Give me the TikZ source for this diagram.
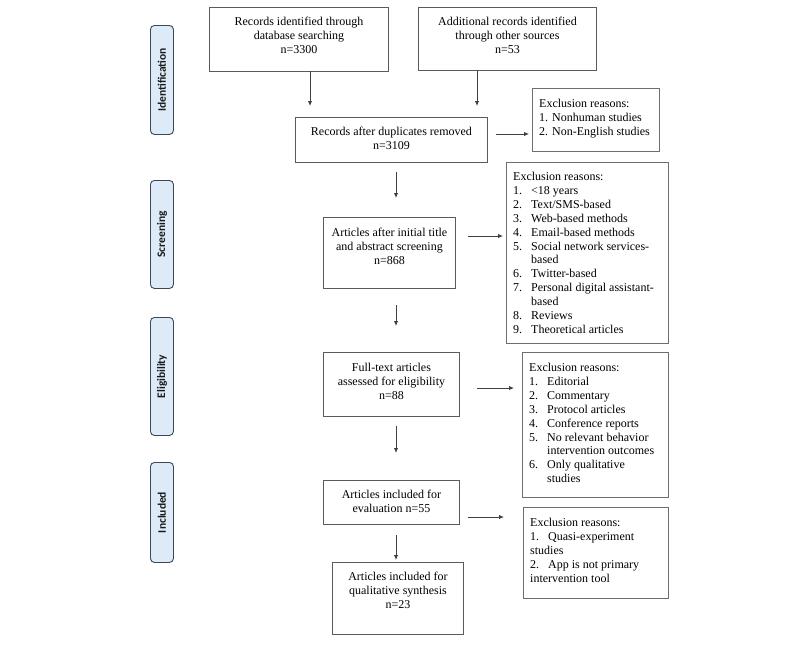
\documentclass[tikz,border=0pt]{standalone}
\usepackage{fontspec}
\setmainfont{Liberation Serif}
\newfontfamily\labelfont{Carlito}
\usetikzlibrary{arrows.meta}
\definecolor{boxgray}{RGB}{90,90,90}
\definecolor{exgray}{RGB}{110,110,110}
\definecolor{lblfill}{RGB}{221,235,248}
\definecolor{lbldraw}{RGB}{60,72,86}
\newcommand\boxat[6]{%
  \node[#6, anchor=north west, minimum width={(#4-#2)*1pt}, minimum height={(#5-#3)*1pt}] (#1) at (#2,#3) {};}
\newcommand\itm[2]{\makebox[18pt][l]{#1}#2}
\newcommand\cnt[1]{\hspace*{18pt}#1}
\begin{document}
\begin{tikzpicture}[x=1pt,y=-1pt,
  mainbox/.style={draw=boxgray, line width=0.9pt, inner sep=0pt},
  exbox/.style={draw=exgray, line width=0.9pt, inner sep=0pt},
  sidebox/.style={draw=lbldraw, fill=lblfill, line width=0.9pt, rounded corners=4pt, inner sep=0pt},
  sidetext/.style={rotate=90, font=\labelfont\bfseries\fontsize{11.5}{13}\selectfont, text=black!90, inner sep=0pt},
  maintext/.style={align=center, inner sep=0pt, font=\fontsize{12}{14}\selectfont, anchor=north},
  extext/.style={align=left, inner sep=0pt, font=\fontsize{12}{13.9}\selectfont, anchor=north west},
  arr/.style={draw=black!75, line width=0.9pt, -{Latex[length=5pt,width=4.5pt]}}
]
\useasboundingbox[fill=white] (0,0) rectangle (800,648);

% side labels
\boxat{L1}{150}{25}{173}{134}{sidebox}
\boxat{L2}{150}{180}{173}{288}{sidebox}
\boxat{L3}{150}{317}{173}{435}{sidebox}
\boxat{L4}{150}{462}{173}{562}{sidebox}
\node[sidetext] (L1t) at (L1.center) {Identification};
\node[sidetext] (L2t) at (L2.center) {Screening};
\node[sidetext] (L3t) at (L3.center) {Eligibility};
\node[sidetext] (L4t) at (L4.center) {Included};

% main boxes
\boxat{A}{209}{7}{388}{71}{mainbox}
\boxat{B}{418}{7}{596}{70}{mainbox}
\boxat{C}{295}{117}{487}{162}{mainbox}
\boxat{D}{323}{217}{455}{288}{mainbox}
\boxat{E}{323}{352}{459}{416}{mainbox}
\boxat{F}{323}{480}{459}{524}{mainbox}
\boxat{G}{332}{562}{463}{634}{mainbox}

\node[maintext] (At) at ([yshift=-10pt]A.north) {Records identified through\\database searching\\n=3300};
\node[maintext] (Bt) at ([yshift=-10pt]B.north) {Additional records identified\\through other sources\\n=53};
\node[maintext] (Ct) at ([yshift=-9.5pt]C.north) {Records after duplicates removed\\n=3109};
\node[maintext] (Dt) at ([yshift=-11pt]D.north) {Articles after initial title\\and abstract screening\\n=868};
\node[maintext] (Et) at ([yshift=-11pt]E.north) {Full-text articles\\assessed for eligibility\\n=88};
\node[maintext] (Ft) at ([yshift=-10pt]F.north) {Articles included for\\evaluation n=55};
\node[maintext] (Gt) at ([yshift=-10pt]G.north) {Articles included for\\qualitative synthesis\\n=23};

% exclusion boxes
\boxat{X1}{532}{88}{659}{151}{exbox}
\boxat{X2}{506}{162}{668}{343}{exbox}
\boxat{X3}{522}{352}{668}{497}{exbox}
\boxat{X4}{523}{507}{668}{598}{exbox}

\node[extext] (X1t) at ([xshift=7pt,yshift=-11pt]X1.north west) {Exclusion reasons:\\1. Nonhuman studies\\2. Non-English studies};
\node[extext] (X2t) at ([xshift=7pt,yshift=-10pt]X2.north west) {Exclusion reasons:\\
\itm{1.}{<18 years}\\
\itm{2.}{Text/SMS-based}\\
\itm{3.}{Web-based methods}\\
\itm{4.}{Email-based methods}\\
\itm{5.}{Social network services-}\\
\cnt{based}\\
\itm{6.}{Twitter-based}\\
\itm{7.}{Personal digital assistant-}\\
\cnt{based}\\
\itm{8.}{Reviews}\\
\itm{9.}{Theoretical articles}};
\node[extext] (X3t) at ([xshift=7pt,yshift=-11pt]X3.north west) {Exclusion reasons:\\
\itm{1.}{Editorial}\\
\itm{2.}{Commentary}\\
\itm{3.}{Protocol articles}\\
\itm{4.}{Conference reports}\\
\itm{5.}{No relevant behavior}\\
\cnt{intervention outcomes}\\
\itm{6.}{Only qualitative}\\
\cnt{studies}};
\node[extext] (X4t) at ([xshift=7pt,yshift=-11pt]X4.north west) {Exclusion reasons:\\
\itm{1.}{Quasi-experiment}\\
studies\\
\itm{2.}{App is not primary}\\
intervention tool};

% arrow end points
\coordinate (a1) at (310,71);  \coordinate (a2) at (310,106);
\coordinate (b1) at (477,71);  \coordinate (b2) at (477,106);
\coordinate (c1) at (496,134); \coordinate (c2) at (529,134);
\coordinate (d1) at (396,172); \coordinate (d2) at (396,198);
\coordinate (e1) at (468,236); \coordinate (e2) at (503,236);
\coordinate (f1) at (396,305); \coordinate (f2) at (396,326);
\coordinate (g1) at (477,388); \coordinate (g2) at (514,388);
\coordinate (h1) at (396,426); \coordinate (h2) at (396,453);
\coordinate (i1) at (468,517); \coordinate (i2) at (504,517);
\coordinate (j1) at (396,535); \coordinate (j2) at (396,560);

\draw[arr] (a1) -- (a2);
\draw[arr] (b1) -- (b2);
\draw[arr] (c1) -- (c2);
\draw[arr] (d1) -- (d2);
\draw[arr] (e1) -- (e2);
\draw[arr] (f1) -- (f2);
\draw[arr] (g1) -- (g2);
\draw[arr] (h1) -- (h2);
\draw[arr] (i1) -- (i2);
\draw[arr] (j1) -- (j2);
\end{tikzpicture}
\end{document}
